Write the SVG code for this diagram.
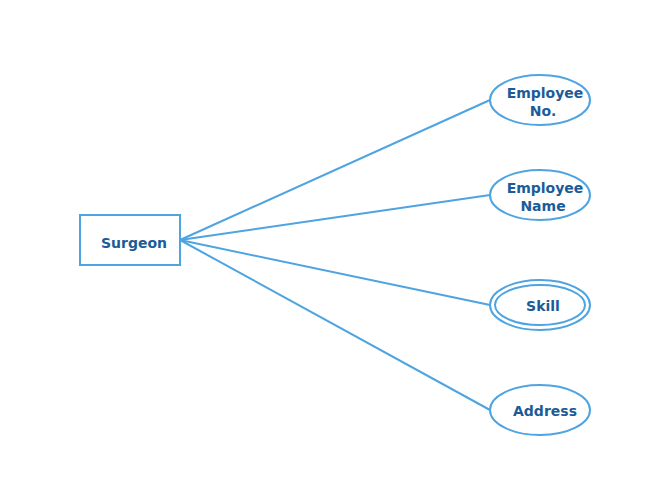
<svg xmlns="http://www.w3.org/2000/svg" width="670" height="500" viewBox="0 0 670 500">
<style>
.s{fill:#fff;stroke:#4ea4e0;stroke-width:2}
.c line{stroke:#4ea4e0;stroke-width:2}
text{font-family:"DejaVu Sans",sans-serif;font-weight:bold;font-size:14px;fill:#1b5c98;text-anchor:middle;dominant-baseline:central}
</style>
<rect width="670" height="500" fill="#fff"/>
<g class="c">
<line x1="180" y1="240" x2="490" y2="100"/>
<line x1="180" y1="240" x2="490" y2="195"/>
<line x1="180" y1="240" x2="490" y2="305"/>
<line x1="180" y1="240" x2="490" y2="410"/>
</g>
<g id="surgeon"><rect class="s" x="80" y="215" width="100" height="50"/><text x="134" y="243">Surgeon</text></g>
<g id="empno"><ellipse class="s" cx="540" cy="100" rx="50" ry="25"/><text x="545" y="93">Employee</text><text x="543" y="111">No.</text></g>
<g id="empname"><ellipse class="s" cx="540" cy="195" rx="50" ry="25"/><text x="545" y="188">Employee</text><text x="543" y="206">Name</text></g>
<g id="skill"><ellipse class="s" cx="540" cy="305" rx="50" ry="25"/><ellipse class="s" cx="540" cy="305" rx="45" ry="20"/><text x="543" y="306">Skill</text></g>
<g id="address"><ellipse class="s" cx="540" cy="410" rx="50" ry="25"/><text x="545" y="411">Address</text></g>
</svg>
